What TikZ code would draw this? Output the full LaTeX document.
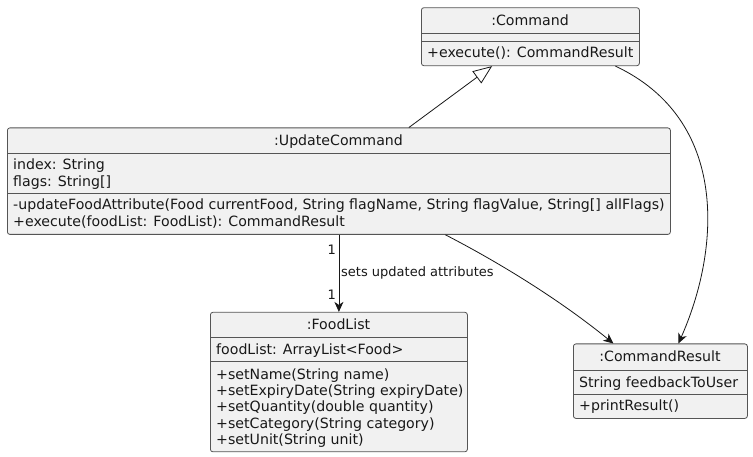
\documentclass[tikz,border=0pt]{standalone}
\usepackage{fontspec}
\setmainfont{DejaVu Sans}
\usetikzlibrary{arrows.meta}
\definecolor{boxfill}{HTML}{F1F1F1}
\definecolor{boxline}{HTML}{555555}
\definecolor{ink}{HTML}{181818}
\tikzset{
  cls/.style={draw=boxline, fill=boxfill, line width=0.8pt, rounded corners=2.5pt, inner sep=0pt, anchor=north west},
  sepline/.style={draw=boxline, line width=0.8pt},
  txt/.style={inner sep=0pt, font=\fontsize{14.15}{16}\selectfont, text=ink},
  lbl/.style={inner sep=0pt, font=\fontsize{13}{15}\selectfont, text=ink},
  conn/.style={draw=ink, line width=0.8pt},
  assoc/.style={conn, -{Stealth[length=10pt, width=9pt, inset=3pt]}},
  inherit/.style={conn, -{Triangle[open, length=19pt, width=15pt, fill=white]}}
}
\begin{document}
\begin{tikzpicture}[x=1pt, y=-1pt]
\useasboundingbox[fill=white] (0,0) rectangle (753,457);

% :Command
\node[cls, minimum width=218pt, minimum height=58pt] (cmd) at (421,7.3) {};
\draw[sepline] (421,33.3) -- (639,33.3);
\draw[sepline] (421,41.8) -- (639,41.8);
\node[txt, anchor=base] (cmdT) at (530,25.5) {:Command};
\node[txt, anchor=base west] (cmdM) at (427,58) {+execute(): CommandResult};

% :UpdateCommand
\node[cls, minimum width=663pt, minimum height=106.5pt] (uc) at (7,127.5) {};
\draw[sepline] (7,153.5) -- (670,153.5);
\draw[sepline] (7,193.3) -- (670,193.3);
\node[txt, anchor=base] (ucT) at (338.5,146) {:UpdateCommand};
\node[txt, anchor=base west] (ucA1) at (13,170) {index: String};
\node[txt, anchor=base west] (ucA2) at (13,186.5) {flags: String[]};
\node[txt, anchor=base west] (ucM1) at (13,210) {-updateFoodAttribute(Food currentFood, String flagName, String flagValue, String[] allFlags)};
\node[txt, anchor=base west] (ucM2) at (13,226.5) {+execute(foodList: FoodList): CommandResult};

% :FoodList
\node[cls, minimum width=257pt, minimum height=139.5pt] (fl) at (210,311.9) {};
\draw[sepline] (210,337.5) -- (467,337.5);
\draw[sepline] (210,361.6) -- (467,361.6);
\node[txt, anchor=base] (flT) at (338.5,330) {:FoodList};
\node[txt, anchor=base west] (flA) at (216,354) {foodList: ArrayList<Food>};
\node[txt, anchor=base west] (flM1) at (216,379) {+setName(String name)};
\node[txt, anchor=base west] (flM2) at (216,395.5) {+setExpiryDate(String expiryDate)};
\node[txt, anchor=base west] (flM3) at (216,411.8) {+setQuantity(double quantity)};
\node[txt, anchor=base west] (flM4) at (216,428) {+setCategory(String category)};
\node[txt, anchor=base west] (flM5) at (216,444) {+setUnit(String unit)};

% :CommandResult
\node[cls, minimum width=174pt, minimum height=74.5pt] (cr) at (573,343.5) {};
\draw[sepline] (573,370.5) -- (747,370.5);
\draw[sepline] (573,394.5) -- (747,394.5);
\node[txt, anchor=base] (crT) at (660,361) {:CommandResult};
\node[txt, anchor=base west] (crA) at (579,387.2) {String feedbackToUser};
\node[txt, anchor=base west] (crM) at (579,410.5) {+printResult()};

% connectors
\draw[inherit] ([xshift=70pt]uc.north) -- ([xshift=-38.3pt]cmd.south);
\draw[assoc] ([xshift=85pt]cmd.south) .. controls (730,120) and (720,250) .. ([xshift=18pt]cr.north);
\draw[assoc] ([xshift=106.5pt]uc.south) .. controls (500,263) and (560,300) .. ([xshift=-47pt]cr.north);
\draw[assoc] (uc.south) -- (fl.north);
\node[lbl, anchor=base east] (m1) at (336,254.5) {1};
\node[lbl, anchor=base east] (m2) at (336,299.5) {1};
\node[lbl, anchor=base west] (el) at (341,277) {sets updated attributes};
\end{tikzpicture}
\end{document}
